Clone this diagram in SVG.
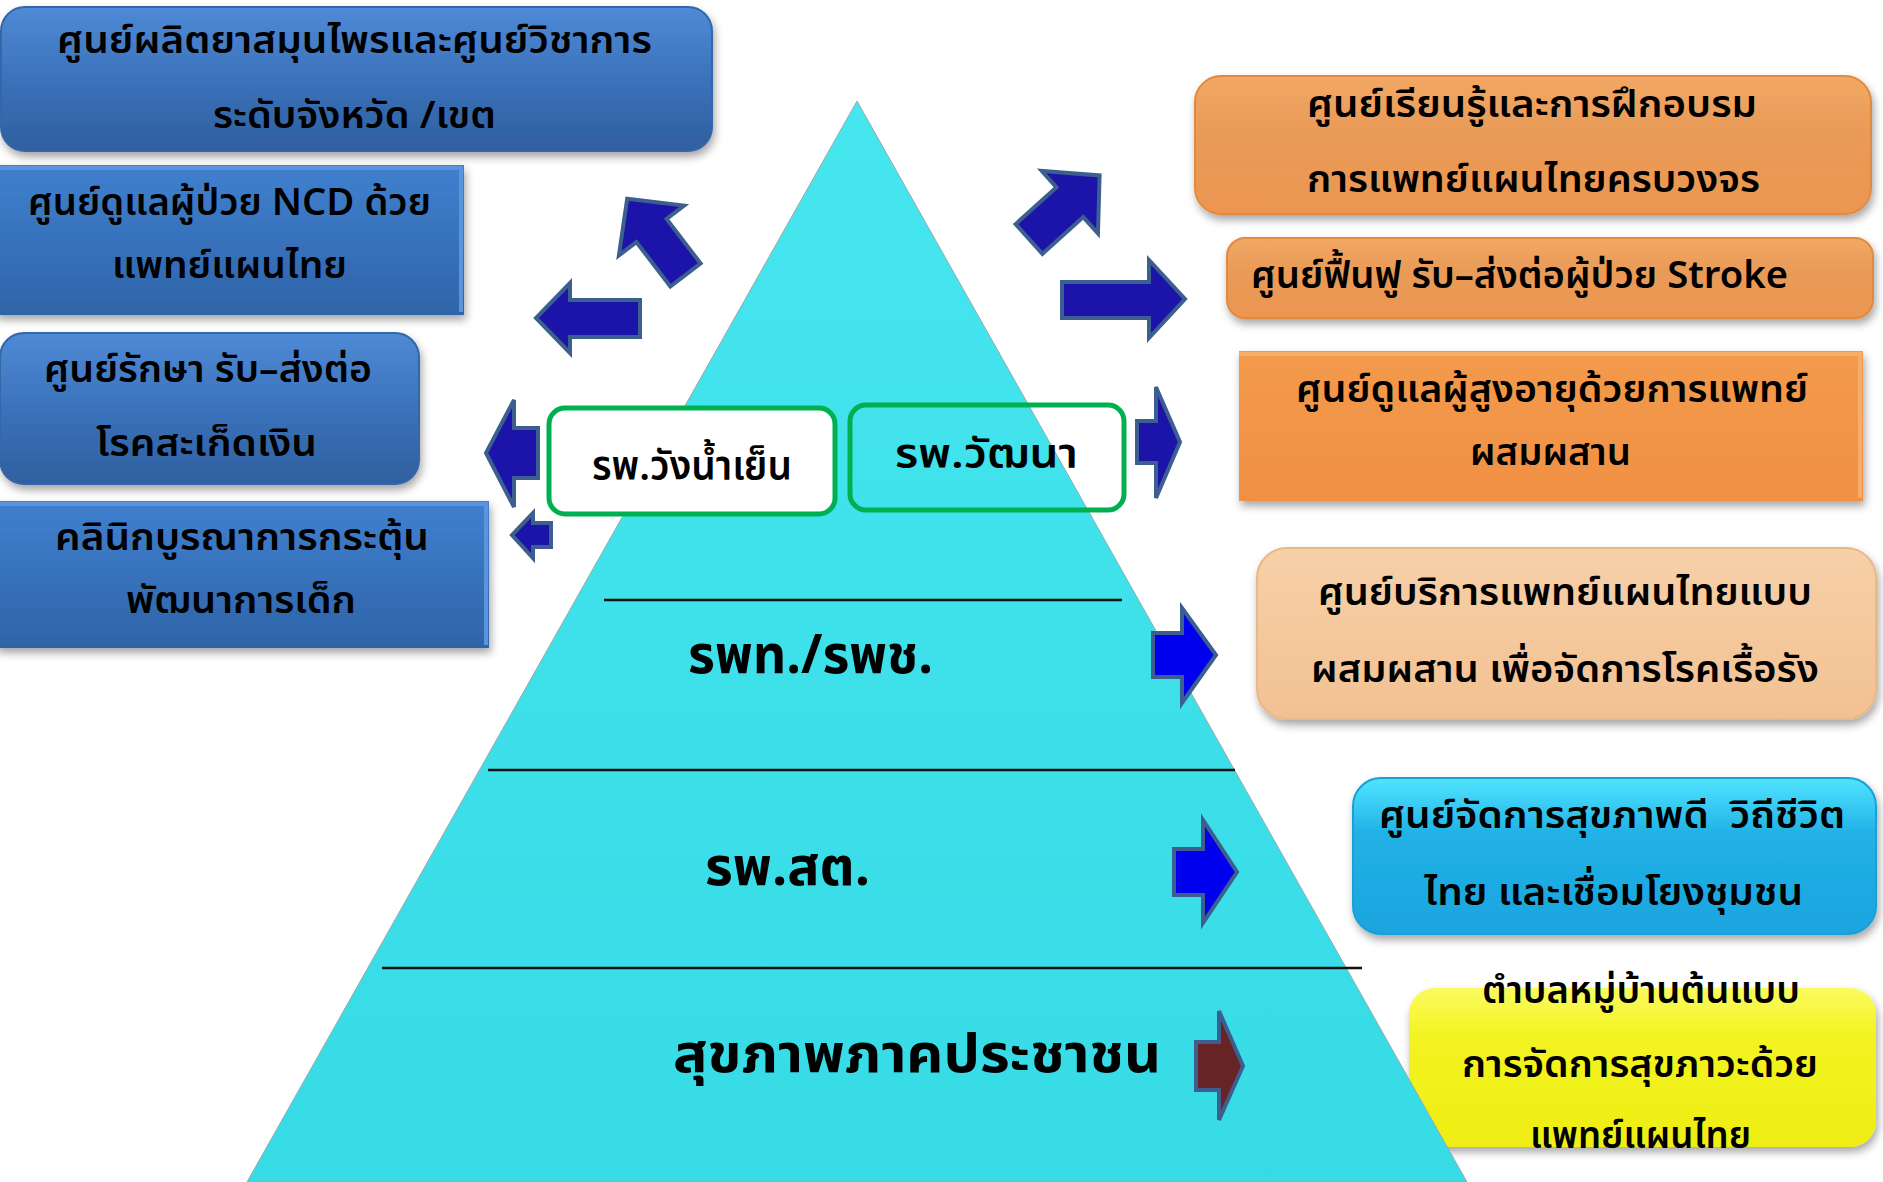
<svg xmlns="http://www.w3.org/2000/svg" width="1883" height="1182" viewBox="0 0 1883 1182">
<style>
.t{font-family:"Noto Sans Thai","Noto Sans","DejaVu Sans",sans-serif;font-size:38px;fill:#000;text-anchor:start;font-weight:600}
.p{font-family:"Noto Sans Thai","Noto Sans","DejaVu Sans",sans-serif;font-size:54px;fill:#000;font-weight:700}
.g{font-family:"Noto Sans Thai","Noto Sans","DejaVu Sans",sans-serif;font-size:40px;fill:#000;font-weight:600}
.arr{fill:#1c13a8;stroke:#3d5f8f;stroke-width:4;stroke-linejoin:miter}
.arrB{fill:#0000ee;stroke:#3d5f8f;stroke-width:4}
.arrM{fill:#682424;stroke:#3d5f8f;stroke-width:4}
.lvl{stroke:#111;stroke-width:2.5}
.gbox{stroke:#00b050;stroke-width:5}
</style>
<defs>
<filter id="sh" x="-10%" y="-10%" width="120%" height="130%"><feDropShadow dx="2" dy="5" stdDeviation="4" flood-color="#000" flood-opacity="0.35"/></filter>
<linearGradient id="gBlue" x1="0" y1="0" x2="0" y2="1"><stop offset="0" stop-color="#4f8ad6"/><stop offset="0.5" stop-color="#3b72bb"/><stop offset="1" stop-color="#2f5f9f"/></linearGradient>
<linearGradient id="gBlueR" x1="0" y1="0" x2="0" y2="1"><stop offset="0" stop-color="#4080cf"/><stop offset="1" stop-color="#2f64a8"/></linearGradient>
<linearGradient id="gOr" x1="0" y1="0" x2="0" y2="1"><stop offset="0" stop-color="#f2a864"/><stop offset="0.4" stop-color="#e99b58"/><stop offset="1" stop-color="#ec9650"/></linearGradient>
<linearGradient id="gOrR" x1="0" y1="0" x2="0" y2="1"><stop offset="0" stop-color="#f39a4c"/><stop offset="1" stop-color="#f09044"/></linearGradient>
<linearGradient id="gPeach" x1="0" y1="0" x2="0" y2="1"><stop offset="0" stop-color="#f7d0a8"/><stop offset="1" stop-color="#f2c192"/></linearGradient>
<linearGradient id="gCyan" x1="0" y1="0" x2="0" y2="1"><stop offset="0" stop-color="#50e4ff"/><stop offset="0.35" stop-color="#22b2e6"/><stop offset="1" stop-color="#1aa4de"/></linearGradient>
<linearGradient id="gYel" x1="0" y1="0" x2="0" y2="1"><stop offset="0" stop-color="#fbfb60"/><stop offset="0.3" stop-color="#f3f322"/><stop offset="1" stop-color="#eeee14"/></linearGradient>
<linearGradient id="gPyr" x1="0" y1="0" x2="0" y2="1"><stop offset="0" stop-color="#46e6ef"/><stop offset="1" stop-color="#36dbe5"/></linearGradient>
</defs>
<rect width="1883" height="1182" fill="#fff"/>

<g id="n-yellow">
<rect x="1409" y="988" width="467" height="159" rx="26" fill="url(#gYel)" filter="url(#sh)"/>
</g>

<g id="pyramid">
<polygon points="857,101 247,1182 1467,1182" fill="url(#gPyr)" stroke="#9aa" stroke-width="1"/>
<line class="lvl" x1="604" y1="600" x2="1122" y2="600"/>
<line class="lvl" x1="488" y1="770" x2="1235" y2="770"/>
<line class="lvl" x1="382" y1="968" x2="1362" y2="968"/>
</g>
<g id="lvl-rpt"><text class="p" x="688" y="673" textLength="245" lengthAdjust="spacingAndGlyphs">รพท./รพช.</text></g>
<g id="lvl-rpst"><text class="p" x="705" y="885" textLength="165" lengthAdjust="spacingAndGlyphs">รพ.สต.</text></g>
<g id="lvl-people"><text class="p" x="673" y="1072" textLength="488" lengthAdjust="spacingAndGlyphs">สุขภาพภาคประชาชน</text></g>

<g id="n-wangnamyen">
<rect class="gbox" x="549" y="408" width="286" height="106" rx="16" fill="#fff"/>
<text class="g" x="592" y="480" textLength="200" lengthAdjust="spacingAndGlyphs">รพ.วังน้ำเย็น</text>
</g>
<g id="n-wattana">
<rect class="gbox" x="850" y="405" width="274" height="105" rx="16" fill="none"/>
<text class="g" x="895" y="468" textLength="183" lengthAdjust="spacingAndGlyphs">รพ.วัฒนา</text>
</g>

<g id="n-herbal">
<rect x="1" y="7" width="711" height="144" rx="24" fill="url(#gBlue)" stroke="#3466a8" stroke-width="2" filter="url(#sh)"/>
<text class="t" x="57" y="53" textLength="595" lengthAdjust="spacingAndGlyphs">ศูนย์ผลิตยาสมุนไพรและศูนย์วิชาการ</text>
<text class="t" x="213" y="128" textLength="283" lengthAdjust="spacingAndGlyphs">ระดับจังหวัด /เขต</text>
</g>
<g id="n-ncd">
<rect x="-5" y="165" width="469" height="150" fill="url(#gBlueR)" filter="url(#sh)"/>
<polyline points="-5,168 461,168 461,312" fill="none" stroke="#5a95dc" stroke-width="4"/>
<text class="t" x="28" y="215" textLength="403" lengthAdjust="spacingAndGlyphs">ศูนย์ดูแลผู้ป่วย NCD ด้วย</text>
<text class="t" x="112" y="278" textLength="235" lengthAdjust="spacingAndGlyphs">แพทย์แผนไทย</text>
</g>
<g id="n-psoriasis">
<rect x="0" y="333" width="419" height="151" rx="24" fill="url(#gBlue)" stroke="#3466a8" stroke-width="2" filter="url(#sh)"/>
<text class="t" x="44" y="382" textLength="328" lengthAdjust="spacingAndGlyphs">ศูนย์รักษา รับ–ส่งต่อ</text>
<text class="t" x="96" y="456" textLength="221" lengthAdjust="spacingAndGlyphs">โรคสะเก็ดเงิน</text>
</g>
<g id="n-child">
<rect x="-5" y="501" width="494" height="147" fill="url(#gBlueR)" filter="url(#sh)"/>
<polyline points="-5,504 486,504 486,645" fill="none" stroke="#5a95dc" stroke-width="4"/>
<text class="t" x="55" y="550" textLength="374" lengthAdjust="spacingAndGlyphs">คลินิกบูรณาการกระตุ้น</text>
<text class="t" x="126" y="613" textLength="230" lengthAdjust="spacingAndGlyphs">พัฒนาการเด็ก</text>
</g>

<g id="n-learning">
<rect x="1195" y="76" width="676" height="138" rx="26" fill="url(#gOr)" stroke="#e08a40" stroke-width="2" filter="url(#sh)"/>
<text class="t" x="1307" y="117" textLength="450" lengthAdjust="spacingAndGlyphs">ศูนย์เรียนรู้และการฝึกอบรม</text>
<text class="t" x="1307" y="192" textLength="453" lengthAdjust="spacingAndGlyphs">การแพทย์แผนไทยครบวงจร</text>
</g>
<g id="n-stroke">
<rect x="1227" y="238" width="646" height="80" rx="18" fill="url(#gOr)" stroke="#e08a40" stroke-width="2" filter="url(#sh)"/>
<text class="t" x="1251" y="288" textLength="537" lengthAdjust="spacingAndGlyphs">ศูนย์ฟื้นฟู รับ–ส่งต่อผู้ป่วย Stroke</text>
</g>
<g id="n-elderly">
<rect x="1239" y="351" width="624" height="150" fill="url(#gOrR)" filter="url(#sh)"/>
<polyline points="1239,354 1860,354 1860,498" fill="none" stroke="#f6ad6a" stroke-width="4"/>
<text class="t" x="1296" y="402" textLength="512" lengthAdjust="spacingAndGlyphs">ศูนย์ดูแลผู้สูงอายุด้วยการแพทย์</text>
<text class="t" x="1470" y="465" textLength="161" lengthAdjust="spacingAndGlyphs">ผสมผสาน</text>
</g>
<g id="n-chronic">
<rect x="1257" y="548" width="619" height="171" rx="30" fill="url(#gPeach)" stroke="#e8b888" stroke-width="2" filter="url(#sh)"/>
<text class="t" x="1318" y="605" textLength="494" lengthAdjust="spacingAndGlyphs">ศูนย์บริการแพทย์แผนไทยแบบ</text>
<text class="t" x="1311" y="682" textLength="508" lengthAdjust="spacingAndGlyphs">ผสมผสาน เพื่อจัดการโรคเรื้อรัง</text>
</g>
<g id="n-lifestyle">
<rect x="1353" y="778" width="523" height="156" rx="28" fill="url(#gCyan)" stroke="#1a9ed6" stroke-width="2" filter="url(#sh)"/>
<text class="t" x="1379" y="828" textLength="466" lengthAdjust="spacingAndGlyphs" xml:space="preserve">ศูนย์จัดการสุขภาพดี  วิถีชีวิต</text>
<text class="t" x="1424" y="905" textLength="379" lengthAdjust="spacingAndGlyphs">ไทย และเชื่อมโยงชุมชน</text>
</g>
<g id="n-village">
<text class="t" x="1482" y="1003" textLength="318" lengthAdjust="spacingAndGlyphs">ตำบลหมู่บ้านต้นแบบ</text>
<text class="t" x="1462" y="1077" textLength="356" lengthAdjust="spacingAndGlyphs">การจัดการสุขภาวะด้วย</text>
<text class="t" x="1530" y="1148" textLength="221" lengthAdjust="spacingAndGlyphs">แพทย์แผนไทย</text>
</g>

<g id="connectors">
<path class="arr" transform="translate(685.5,275) rotate(-127.4)" d="M0,-19 L56,-19 L56,-41 L96,0 L56,41 L56,19 L0,19 Z"/>
<path class="arr" d="M640,300 L570,300 L570,283 L536,318 L570,353 L570,337 L640,337 Z"/>
<path class="arr" d="M538,428 L514,428 L514,400 L486,453 L514,507 L514,478 L538,478 Z"/>
<path class="arr" d="M551,523 L533,523 L533,513 L512,535 L533,558 L533,547 L551,547 Z"/>
<path class="arr" transform="translate(1029,239) rotate(-42)" d="M0,-20 L55,-20 L55,-42 L95,0 L55,42 L55,20 L0,20 Z"/>
<path class="arr" d="M1062,282 L1149,282 L1149,260 L1185,299 L1149,338 L1149,318 L1062,318 Z"/>
<path class="arr" d="M1137,421 L1156,421 L1156,387 L1180,442 L1156,498 L1156,463 L1137,463 Z"/>
<path class="arrB" d="M1153,633 L1182,633 L1182,608 L1216,655 L1182,703 L1182,677 L1153,677 Z"/>
<path class="arrB" d="M1174,849 L1203,849 L1203,820 L1237,872 L1203,923 L1203,895 L1174,895 Z"/>
<path class="arrM" d="M1196,1042 L1219,1042 L1219,1011 L1243,1066 L1219,1120 L1219,1090 L1196,1090 Z"/>
</g>
</svg>
